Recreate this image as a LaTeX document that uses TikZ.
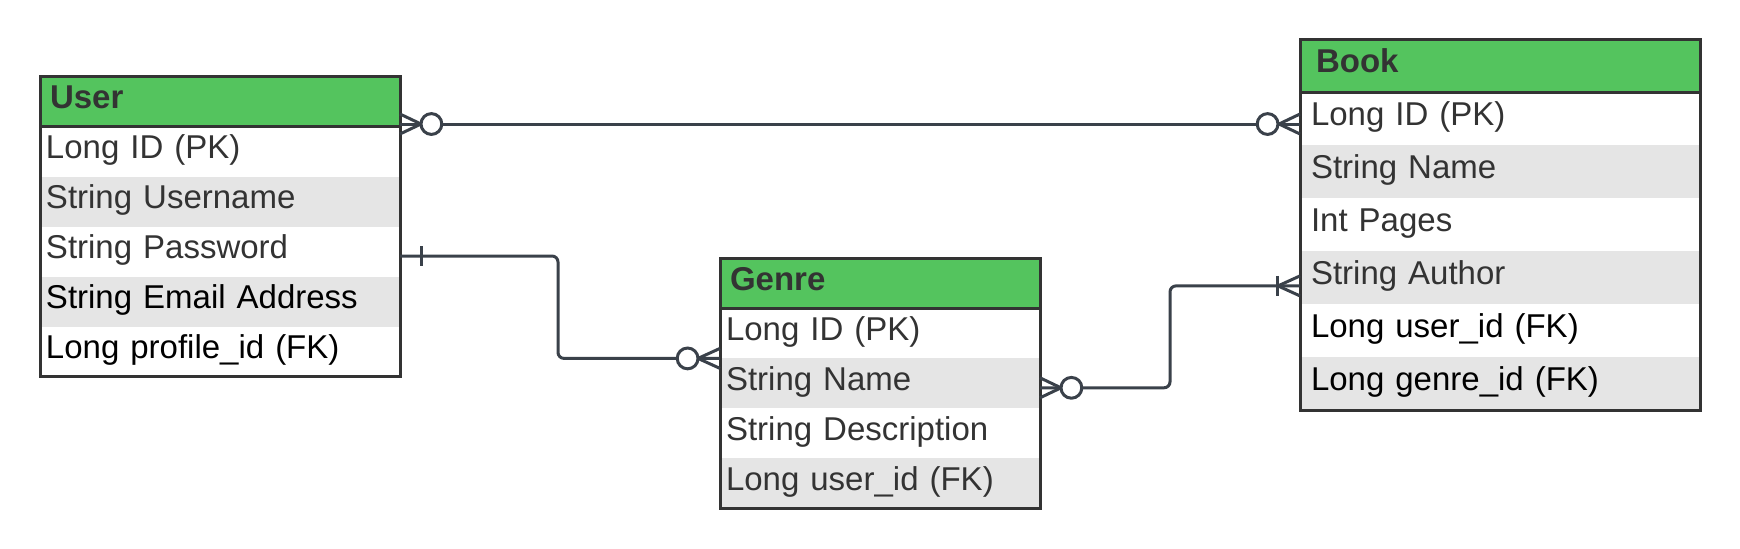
\documentclass[tikz,border=0pt]{standalone}
\usepackage{fontspec}
\setmainfont{Liberation Sans}
\usetikzlibrary{positioning}
\definecolor{hdrgreen}{HTML}{54C45E}
\definecolor{rowgray}{HTML}{E5E5E5}
\definecolor{boxgray}{HTML}{333333}
\definecolor{relgray}{HTML}{3A414A}
\definecolor{fieldtext}{HTML}{333333}
\tikzstyle{header}=[rectangle, fill=hdrgreen, text=fieldtext, anchor=north west,
  font=\bfseries\fontsize{16.5}{20}\selectfont, inner ysep=0pt, outer sep=0pt,
  align=left, text height=11.8pt, text depth=5pt]
\tikzstyle{field}=[rectangle, text=fieldtext, font=\fontsize{16.5}{20}\selectfont,
  inner ysep=0pt, outer sep=0pt, align=left, text height=11.8pt, text depth=5pt]
\tikzstyle{userrow}=[field, text width=174pt, inner xsep=3pt, minimum height=25pt]
\tikzstyle{genrerow}=[field, text width=154pt, inner xsep=3pt, minimum height=25pt]
\tikzstyle{bookrow}=[field, text width=189pt, inner xsep=5.5pt, minimum height=26.5pt]
\tikzstyle{stripe}=[fill=rowgray]
\tikzstyle{frame}=[draw=boxgray, line width=1.5pt]
\tikzstyle{rel}=[draw=relgray, line width=1.5pt, rounded corners=3pt]
\tikzstyle{foot}=[draw=relgray, line width=1.5pt, sharp corners]

\begin{document}
\begin{tikzpicture}
\useasboundingbox (0,0) rectangle (870pt,-274pt);

% User
\node[header, text width=170pt, inner xsep=5pt, minimum height=25.3pt] (userhdr) at (20pt,-38pt) {User};
\node[userrow, below=0pt of userhdr] (user1) {Long ID (PK)};
\node[userrow, stripe, below=0pt of user1] (user2) {String Username};
\node[userrow, below=0pt of user2] (user3) {String Password};
\node[userrow, stripe, text=black, below=0pt of user3] (user4) {String Email Address};
\node[userrow, text=black, below=0pt of user4] (user5) {Long profile\_id (FK)};
\draw[frame] (userhdr.north west) rectangle (user5.south east);
\draw[frame] (userhdr.south west) -- (userhdr.south east);

% Genre
\node[header, text width=150pt, inner xsep=5pt, minimum height=25pt] (genrehdr) at (360pt,-129.2pt) {Genre};
\node[genrerow, below=0pt of genrehdr] (genre1) {Long ID (PK)};
\node[genrerow, stripe, below=0pt of genre1] (genre2) {String Name};
\node[genrerow, below=0pt of genre2] (genre3) {String Description};
\node[genrerow, stripe, below=0pt of genre3] (genre4) {Long user\_id (FK)};
\draw[frame] (genrehdr.north west) rectangle (genre4.south east);
\draw[frame] (genrehdr.south west) -- (genrehdr.south east);

% Book
\node[header, text width=184pt, inner xsep=8pt, minimum height=26.5pt] (bookhdr) at (650pt,-19.7pt) {Book};
\node[bookrow, below=0pt of bookhdr] (book1) {Long ID (PK)};
\node[bookrow, stripe, below=0pt of book1] (book2) {String Name};
\node[bookrow, below=0pt of book2] (book3) {Int Pages};
\node[bookrow, stripe, below=0pt of book3] (book4) {String Author};
\node[bookrow, text=black, below=0pt of book4] (book5) {Long user\_id (FK)};
\node[bookrow, stripe, text=black, below=0pt of book5] (book6) {Long genre\_id (FK)};
\draw[frame] (bookhdr.north west) rectangle (book6.south east);
\draw[frame] (bookhdr.south west) -- (bookhdr.south east);

% User -- Book (zero or many / zero or many)
\coordinate (ubstart) at ([yshift=1.3pt]userhdr.south east);
\coordinate (ubend) at (ubstart -| book1.west);
\draw[rel] (ubstart) -- (ubend);
\draw[foot] ([yshift=5pt]ubstart) -- ++(10.5pt,-5pt) -- ([yshift=-5pt]ubstart);
\draw[foot, fill=white] ([xshift=15.7pt]ubstart) circle (5.2pt);
\draw[foot] ([yshift=5pt]ubend) -- ++(-10.5pt,-5pt) -- ([yshift=-5pt]ubend);
\draw[foot, fill=white] ([xshift=-16.2pt]ubend) circle (5.2pt);

% User -- Genre (one / zero or many)
\coordinate (ugstart) at ([yshift=-2.2pt]user3.east);
\coordinate (ugend) at (genre1.south west);
\draw[rel] (ugstart) -| (279pt,0 |- ugend) -- (ugend);
\draw[foot] ([xshift=10.8pt,yshift=5pt]ugstart) -- ++(0,-10pt);
\draw[foot] ([yshift=5pt]ugend) -- ++(-11pt,-5pt) -- ([yshift=-5pt]ugend);
\draw[foot, fill=white] ([xshift=-16.2pt]ugend) circle (5.2pt);

% Genre -- Book (zero or many / one or many)
\coordinate (gbstart) at ([yshift=-2.2pt]genre2.east);
\coordinate (gbend) at ([yshift=-4pt]book4.west);
\draw[rel] (gbstart) -| (585pt,0 |- gbend) -- (gbend);
\draw[foot] ([yshift=5pt]gbstart) -- ++(10.5pt,-5pt) -- ([yshift=-5pt]gbstart);
\draw[foot, fill=white] ([xshift=15.7pt]gbstart) circle (5.2pt);
\draw[foot] ([yshift=5pt]gbend) -- ++(-11pt,-5pt) -- ([yshift=-5pt]gbend);
\draw[foot] ([xshift=-11.3pt,yshift=5pt]gbend) -- ++(0,-10pt);

\end{tikzpicture}
\end{document}
